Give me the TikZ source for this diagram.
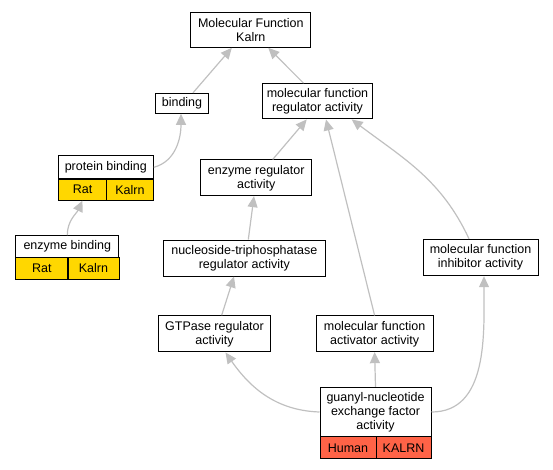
\documentclass[tikz,border=0pt]{standalone}
\usepackage{fontspec}
\setmainfont{Liberation Sans}
\usetikzlibrary{arrows.meta,calc}
\definecolor{edgegray}{RGB}{192,192,192}
\definecolor{ratgold}{RGB}{255,215,0}
\definecolor{humred}{RGB}{255,99,71}
\tikzset{
  box/.style={draw=black, line width=1pt, fill=white, inner sep=0pt, align=center,
    font=\fontsize{12.5}{14}\selectfont},
  gold/.style={box, fill=ratgold},
  red/.style={box, fill=humred},
  edge/.style={draw=edgegray, line width=1.2pt, -{Triangle[length=11pt,width=10pt]}},
}
\begin{document}
\begin{tikzpicture}[x=1pt,y=-1pt]
\useasboundingbox (0,0) rectangle (553,469);
% nodes
\node[box, minimum width=120.3pt, minimum height=35.3pt] (mf) at (250.8,29.7) {Molecular Function\\Kalrn};
\node[box, minimum width=52.6pt, minimum height=20pt] (binding) at (182,103.3) {binding};
\node[box, minimum width=110.4pt, minimum height=35.3pt] (mfra) at (317.5,101.3) {molecular function\\regulator activity};
\node[box, minimum width=95pt, minimum height=23.3pt] (pb) at (105.8,167.3) {protein binding};
\node[gold, minimum width=48.4pt, minimum height=21pt] (pbrat) at (82.5,189.6) {Rat};
\node[gold, minimum width=46.6pt, minimum height=21pt] (pbkal) at (130,189.6) {Kalrn};
\node[box, minimum width=103.3pt, minimum height=21.6pt] (eb) at (67.3,246.5) {enzyme binding};
\node[gold, minimum width=52.3pt, minimum height=22pt] (ebrat) at (41.8,268.3) {Rat};
\node[gold, minimum width=51pt, minimum height=22pt] (ebkal) at (93.5,268.3) {Kalrn};
\node[box, minimum width=111pt, minimum height=35.7pt] (ereg) at (256.2,177.8) {enzyme regulator\\activity};
\node[box, minimum width=162pt, minimum height=36pt] (nuc) at (244.3,258) {nucleoside-triphosphatase\\regulator activity};
\node[box, minimum width=115pt, minimum height=36.4pt] (inh) at (480.5,257.5) {molecular function\\inhibitor activity};
\node[box, minimum width=112.4pt, minimum height=36.3pt] (gtp) at (214.5,333.8) {GTPase regulator\\activity};
\node[box, minimum width=117pt, minimum height=35.7pt] (act) at (374.6,333.8) {molecular function\\activator activity};
\node[box, minimum width=111pt, minimum height=49.4pt] (gua) at (375.5,412) {guanyl-nucleotide\\exchange factor\\activity};
\node[red, minimum width=56pt, minimum height=22.3pt] (guahum) at (348,447.8) {Human};
\node[red, minimum width=55pt, minimum height=22.3pt] (guakal) at (403.5,447.8) {KALRN};
% edges
\draw[edge] ($(binding.north)+(11,0)$) -- ($(mf.south)+(-19,0)$);
\draw[edge] ($(mfra.north)+(-14,0)$) -- ($(mf.south)+(17.5,0)$);
\draw[edge] (pb.east) to[out=15,in=-90] ($(binding.south)+(-1,0)$);
\draw[edge] (eb.north) to[out=90,in=-115] (pbrat.south);
\draw[edge] ($(ereg.north)+(16.5,0)$) -- ($(mfra.south)+(-10.8,0)$);
\draw[edge] ($(nuc.north)+(4,0)$) -- ($(ereg.south)+(-2.2,0)$);
\draw[edge] (act.north) -- ($(mfra.south)+(8.5,0)$);
\draw[edge] ($(inh.north)+(-11.5,0)$) to[out=115,in=-37] ($(mfra.south)+(34.2,0)$);
\draw[edge] ($(gtp.north)+(7.2,0)$) -- ($(nuc.south)+(-10.3,0)$);
\draw[edge] (gua.north) -- (act.south);
\draw[edge] (gua.west) to[out=178,in=-55] ($(gtp.south)+(11,0)$);
\draw[edge] (gua.east) to[out=0,in=-90] ($(inh.south)+(3.5,0)$);
\end{tikzpicture}
\end{document}
